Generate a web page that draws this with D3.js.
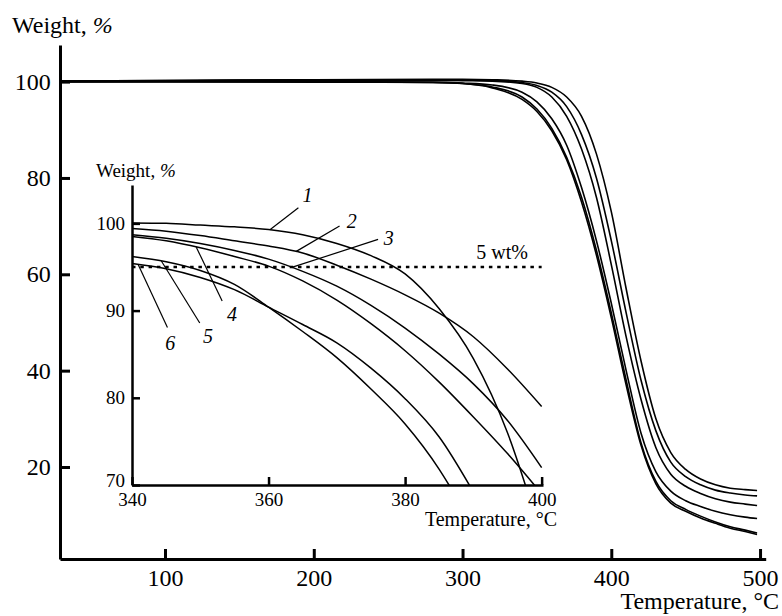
<!DOCTYPE html>
<html>
<head>
<meta charset="utf-8">
<script src="https://cdn.jsdelivr.net/npm/d3@7"></script>
<style>
    body { margin: 0; background: #fff; }
    text { font-family: "Liberation Serif", "Times New Roman", serif; fill: #000; }
</style>
</head>
<body>
<div class="chart"></div>
<script>
// main TGA curves, weight % vs temperature
const mainTemp = [30, 100, 200, 280, 300, 320, 340, 350, 360, 370, 380, 390, 400, 410, 420, 430, 440, 450, 460, 470, 480, 490, 498];
const mainW1 = [100.1, 100.2, 100.4, 100.5, 100.5, 100.4, 100.1, 99.7, 98.8, 96.8, 92.8, 85, 73, 57, 42, 30, 23, 19.5, 17.5, 16.3, 15.6, 15.3, 15.1];
const mainW2 = [100.1, 100.2, 100.4, 100.4, 100.3, 100.2, 99.8, 99.2, 97.8, 94.8, 89, 80, 67, 52, 38, 27.5, 21, 18, 16.3, 15.2, 14.6, 14.2, 14.0];
const mainW3 = [100, 100.1, 100.3, 100.3, 100.2, 100.1, 99.6, 98.8, 96.8, 92.8, 86, 76, 62, 47, 34, 24, 18.5, 16, 14.5, 13.4, 12.7, 12.3, 12.0];
const mainW4 = [100, 100, 100, 99.9, 99.7, 99.3, 97.8, 95.8, 92.3, 86.8, 78, 67, 54, 40, 27, 19, 15, 13, 11.8, 10.8, 10.1, 9.6, 9.3];
const mainW5 = [100, 100, 100, 99.8, 99.6, 98.9, 96.8, 94.3, 90.3, 84.3, 76, 65, 52, 38, 25, 17, 13, 11.2, 9.8, 8.6, 7.6, 6.9, 6.3];
const mainW6 = [100, 100, 99.9, 99.8, 99.6, 98.7, 96.3, 93.8, 89.8, 83.8, 75, 64, 51, 37, 24.5, 16.5, 12.5, 10.8, 9.4, 8.3, 7.3, 6.6, 6.0];

// inset, 340-400 °C
const insetTemp = [340, 345, 350, 355, 360, 365, 370, 375, 380, 385, 390, 395, 400];
const insetW1 = [100.05, 100.0, 99.8, 99.6, 99.3, 98.7, 97.7, 96.3, 94.2, 90.2, 84.5, 76, 64];
const insetW2 = [99.4, 99.1, 98.6, 98.0, 97.4, 96.6, 95.2, 93.6, 91.8, 89.7, 87, 83.3, 79];
const insetW3 = [98.7, 98.3, 97.7, 96.9, 95.9, 94.5, 92.8, 90.6, 88, 85, 81.6, 77.4, 72];
const insetW4 = [98.5, 98.0, 97.2, 96.2, 95.1, 93.4, 91.2, 88.5, 85.4, 81.8, 77.8, 73.6, 69];
const insetW5 = [96.2, 95.6, 94.6, 93.0, 90.4, 87.6, 84.6, 81, 77, 71.8, 65, 57, 48];
const insetW6 = [95.4, 94.8, 93.8, 92.4, 90.4, 88.4, 86.3, 83.4, 79.9, 75.5, 69.2, 62, 54];

const curveLabels = ["1", "2", "3", "4", "5", "6"];
const labelTemp = [360.2, 364, 363.4, 349.4, 344.3, 340.9];
const threshold = 95; // 5 wt% loss

const mainXTicks = [100, 200, 300, 400, 500];
const mainYTicks = [20, 40, 60, 80, 100];
const insetXTicks = [340, 360, 380, 400];
const insetYTicks = [70, 80, 90, 100];

const config = {
    width: 782,
    height: 616,
    main: {left: 60, right: 765.7, top: 45, bottom: 559},
    inset: {left: 132, right: 543, top: 185, bottom: 485}
};

const svg = d3.select(".chart").append("svg")
    .attr("width", config.width)
    .attr("height", config.height);

// ---- main chart ----
const m = config.main;
const x = d3.scaleLinear().domain([29.4, 503.8]).range([m.left, m.right]);
const y = d3.scaleLinear().domain([0.9, 107.6]).range([m.bottom, m.top]);

const xAxis = svg.append("g")
    .attr("transform", "translate(0," + m.bottom + ")")
    .call(d3.axisBottom(x).tickValues(mainXTicks).tickSize(-10).tickSizeOuter(0).tickPadding(10.2));
const yAxis = svg.append("g")
    .attr("transform", "translate(" + m.left + ",0)")
    .call(d3.axisLeft(y).tickValues(mainYTicks).tickSize(-10).tickSizeOuter(0).tickPadding(9.3));

[xAxis, yAxis].forEach(a => {
    a.select(".domain").attr("stroke-width", 3);
    a.selectAll(".tick line").attr("stroke-width", 3);
    a.selectAll("text").attr("font-size", 24).attr("font-family", null);
});

const mainLine = d3.line()
    .x(d => x(d[0]))
    .y(d => y(d[1]))
    .curve(d3.curveMonotoneX);

[mainW1, mainW2, mainW3, mainW4, mainW5, mainW6].forEach(w => {
    svg.append("path")
        .datum(mainTemp.map((t, i) => [t, w[i]]))
        .attr("fill", "none")
        .attr("stroke", "#000")
        .attr("stroke-width", 1.6)
        .attr("d", mainLine);
});

svg.append("text")
    .attr("x", 12)
    .attr("y", 33)
    .attr("font-size", 24)
    .text("Weight, ")
    .append("tspan").attr("font-style", "italic").text("%");

svg.append("text")
    .attr("x", 779)
    .attr("y", 609)
    .attr("text-anchor", "end")
    .attr("font-size", 24)
    .text("Temperature, °C");

// ---- inset ----
const n = config.inset;
const xi = d3.scaleLinear().domain([340, 400.2]).range([n.left, n.right]);
const yi = d3.scaleLinear().domain([70, 104.4]).range([n.bottom, n.top]);

svg.append("clipPath").attr("id", "insetClip")
    .append("rect")
    .attr("x", n.left).attr("y", n.top)
    .attr("width", n.right - n.left).attr("height", n.bottom - n.top);

const xiAxis = svg.append("g")
    .attr("transform", "translate(0," + n.bottom + ")")
    .call(d3.axisBottom(xi).tickValues(insetXTicks).tickSize(-8).tickSizeOuter(0).tickPadding(7.5));
const yiAxis = svg.append("g")
    .attr("transform", "translate(" + n.left + ",0)")
    .call(d3.axisLeft(yi).tickValues(insetYTicks).tickSize(-8).tickSizeOuter(0).tickPadding(7));

[xiAxis, yiAxis].forEach(a => {
    a.select(".domain").attr("stroke-width", 2.5);
    a.selectAll(".tick line").attr("stroke-width", 2.5);
    a.selectAll("text").attr("font-size", 19).attr("font-family", null);
});
// the 70 label sits just above the corner
yiAxis.selectAll(".tick text").filter(d => d === 70).attr("dy", "0.1em");

// 5 wt% loss line
svg.append("line")
    .attr("x1", xi(340)).attr("x2", xi(400))
    .attr("y1", yi(threshold)).attr("y2", yi(threshold))
    .attr("stroke", "#000")
    .attr("stroke-width", 2.5)
    .attr("stroke-dasharray", "3.5,4.8");

svg.append("text")
    .attr("x", 528)
    .attr("y", yi(threshold) - 8)
    .attr("text-anchor", "end")
    .attr("font-size", 20)
    .text("5 wt%");

const insetLine = d3.line()
    .x(d => xi(d[0]))
    .y(d => yi(d[1]))
    .curve(d3.curveMonotoneX);

const insetSeries = [insetW1, insetW2, insetW3, insetW4, insetW5, insetW6];
const insetG = svg.append("g").attr("clip-path", "url(#insetClip)");
insetSeries.forEach(w => {
    insetG.append("path")
        .datum(insetTemp.map((t, i) => [t, w[i]]))
        .attr("fill", "none")
        .attr("stroke", "#000")
        .attr("stroke-width", 1.5)
        .attr("d", insetLine);
});

// curve number leaders: [leader dx, dy, text dx, dy] in px from the anchor
const leaderOffsets = [[28.5, -22, 37.5, -28], [43.7, -25.7, 56, -23.7], [86.3, -28, 97, -22],
    [26, 54, 35.7, 74.3], [38.4, 62, 46.7, 82.3], [29.3, 63, 32, 85.3]];

insetSeries.forEach((w, i) => {
    const wAt = d3.scaleLinear().domain(insetTemp).range(w);
    const ax = xi(labelTemp[i]);
    const ay = yi(wAt(labelTemp[i]));
    const o = leaderOffsets[i];
    svg.append("line")
        .attr("x1", ax).attr("y1", ay)
        .attr("x2", ax + o[0]).attr("y2", ay + o[1])
        .attr("stroke", "#000")
        .attr("stroke-width", 1.2);
    svg.append("text")
        .attr("x", ax + o[2])
        .attr("y", ay + o[3])
        .attr("text-anchor", "middle")
        .attr("font-size", 20)
        .attr("font-style", "italic")
        .text(curveLabels[i]);
});

svg.append("text")
    .attr("x", 96)
    .attr("y", 177)
    .attr("font-size", 19)
    .text("Weight, ")
    .append("tspan").attr("font-style", "italic").text("%");

svg.append("text")
    .attr("x", 557)
    .attr("y", 526)
    .attr("text-anchor", "end")
    .attr("font-size", 20)
    .text("Temperature, °C");
</script>
</body>
</html>
